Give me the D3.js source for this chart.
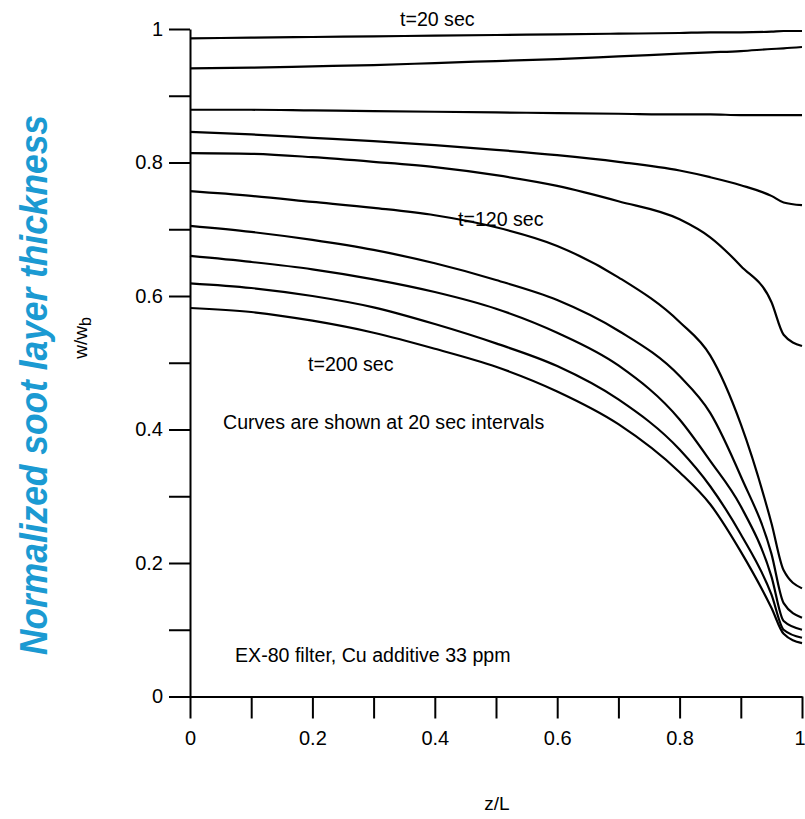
<!DOCTYPE html>
<html>
<head>
<meta charset="utf-8">
<script src="https://cdn.jsdelivr.net/npm/d3@7"></script>
<style>
  body { margin: 0; background: #fff; }
  text { font-family: "Liberation Sans", Arial, sans-serif; }
</style>
</head>
<body>
<div id="chart"></div>
<script>
// positions along the filter (z/L) where the curves were read
const zValues = [0, 0.1, 0.2, 0.3, 0.4, 0.5, 0.6, 0.7, 0.8, 0.85, 0.9, 0.95, 0.97, 1];

// normalized soot layer thickness w/wb, one series every 20 sec (t=20 ... t=200)
const times = [20, 40, 60, 80, 100, 120, 140, 160, 180, 200];
const w20  = [0.986, 0.987, 0.988, 0.989, 0.990, 0.991, 0.992, 0.993, 0.994, 0.995, 0.995, 0.996, 0.997, 0.997];
const w40  = [0.941, 0.942, 0.944, 0.946, 0.949, 0.952, 0.955, 0.959, 0.963, 0.965, 0.967, 0.970, 0.971, 0.973];
const w60  = [0.879, 0.879, 0.878, 0.877, 0.876, 0.875, 0.874, 0.873, 0.872, 0.872, 0.871, 0.871, 0.871, 0.871];
const w80  = [0.846, 0.842, 0.837, 0.832, 0.826, 0.819, 0.811, 0.801, 0.788, 0.778, 0.766, 0.750, 0.740, 0.736];
const w100 = [0.814, 0.813, 0.808, 0.801, 0.793, 0.781, 0.765, 0.742, 0.715, 0.688, 0.645, 0.591, 0.542, 0.525];
const w120 = [0.757, 0.750, 0.741, 0.732, 0.721, 0.703, 0.675, 0.628, 0.561, 0.511, 0.408, 0.260, 0.189, 0.162];
const w140 = [0.705, 0.696, 0.684, 0.669, 0.649, 0.624, 0.594, 0.548, 0.480, 0.425, 0.330, 0.214, 0.140, 0.118];
const w160 = [0.660, 0.651, 0.640, 0.625, 0.606, 0.581, 0.545, 0.496, 0.415, 0.353, 0.285, 0.180, 0.113, 0.100];
const w180 = [0.619, 0.612, 0.600, 0.583, 0.558, 0.529, 0.495, 0.445, 0.370, 0.315, 0.243, 0.153, 0.100, 0.088];
const w200 = [0.582, 0.576, 0.563, 0.545, 0.521, 0.494, 0.457, 0.408, 0.336, 0.288, 0.217, 0.133, 0.094, 0.080];
const series = [w20, w40, w60, w80, w100, w120, w140, w160, w180, w200];

const tickValues = d3.range(0, 11).map(i => i / 10);

const width = 805;
const height = 819;

const x = d3.scaleLinear().domain([0, 1]).range([190, 802]);
const y = d3.scaleLinear().domain([0, 1]).range([696.5, 29]);

const svg = d3.select("#chart").append("svg")
	.attr("width", width)
	.attr("height", height);

// labels only on every other tick, "0" and "1" without decimals
const fmt = d => {
	const k = Math.round(d * 10);
	if (k % 2) return "";
	return (k === 0 || k === 10) ? String(k / 10) : (k / 10).toFixed(1);
};

// y axis
const yAxis = svg.append("g")
	.attr("transform", `translate(${x(0)},0)`)
	.call(d3.axisLeft(y).tickValues(tickValues).tickFormat(fmt).tickSize(21).tickSizeOuter(0).tickPadding(6));

// x axis
const xAxis = svg.append("g")
	.attr("transform", `translate(0,${y(0)})`)
	.call(d3.axisBottom(x).tickValues(tickValues).tickFormat(fmt).tickSize(22).tickSizeOuter(0).tickPadding(12));

[xAxis, yAxis].forEach(g => {
	g.select(".domain").attr("stroke", "#000").attr("stroke-width", 2);
	g.selectAll(".tick line").attr("stroke", "#000").attr("stroke-width", 2);
	g.selectAll(".tick text")
		.attr("fill", "#000")
		.style("font-size", "20px")
		.style("font-family", "'Liberation Sans', Arial, sans-serif");
});

// last x label sits on the page edge, keep it inside
xAxis.selectAll(".tick text")
	.filter(d => d === 1)
	.attr("text-anchor", "end")
	.attr("x", 3);

// curves
const line = d3.line()
	.x((d, i) => x(zValues[i]))
	.y(d => y(d))
	.curve(d3.curveMonotoneX);

svg.append("g")
	.selectAll("path")
	.data(series)
	.join("path")
	.attr("fill", "none")
	.attr("stroke", "#000")
	.attr("stroke-width", 2.2)
	.attr("d", line);

// annotations
const notes = [
	{ text: "t=20 sec", x: 400, y: 26 },
	{ text: "t=120 sec", x: 458, y: 226 },
	{ text: "t=200 sec", x: 308, y: 371 },
	{ text: "Curves are shown at 20 sec intervals", x: 223, y: 429 },
	{ text: "EX-80 filter, Cu additive 33 ppm", x: 235, y: 662 }
];
svg.append("g")
	.selectAll("text")
	.data(notes)
	.join("text")
	.attr("x", d => d.x)
	.attr("y", d => d.y)
	.style("font-size", "19.6px")
	.attr("fill", "#000")
	.text(d => d.text);

// x label
svg.append("text")
	.attr("x", 497)
	.attr("y", 810)
	.attr("text-anchor", "middle")
	.style("font-size", "19px")
	.text("z/L");

// y labels
svg.append("text")
	.attr("transform", "translate(47,385) rotate(-90)")
	.attr("text-anchor", "middle")
	.attr("textLength", 540)
	.attr("lengthAdjust", "spacingAndGlyphs")
	.style("font-size", "38px")
	.style("font-weight", "bold")
	.style("font-style", "italic")
	.attr("fill", "#1b9ad2")
	.text("Normalized soot layer thickness");

const wlab = svg.append("text")
	.attr("transform", "translate(87,338) rotate(-90)")
	.attr("text-anchor", "middle")
	.style("font-size", "19px");
wlab.append("tspan").text("w/w");
wlab.append("tspan").attr("dy", 4).style("font-size", "16px").text("b");
</script>
</body>
</html>
